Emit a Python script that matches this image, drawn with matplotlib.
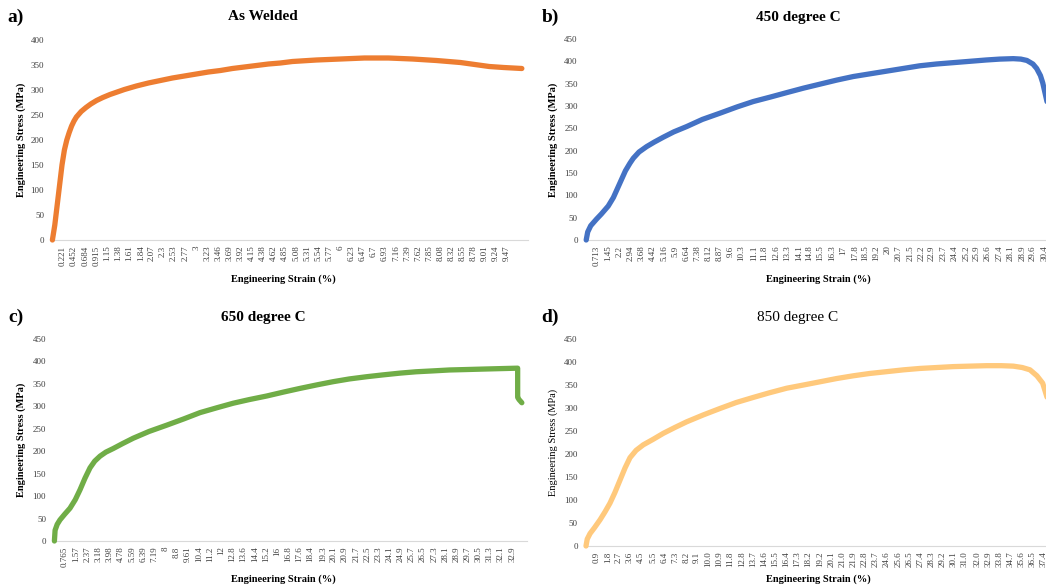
import matplotlib
matplotlib.use("Agg")
import matplotlib.pyplot as plt

plt.rcParams['font.family'] = ['Liberation Serif', 'DejaVu Serif']

# --- data (strain %, stress MPa) ---
aw_strain = [0, 0.05, 0.1, 0.15, 0.2, 0.25, 0.3, 0.35, 0.4, 0.45, 0.5, 0.6, 0.7, 0.8,
             0.92, 1.05, 1.2, 1.35, 1.5, 1.75, 2.0, 2.25, 2.5, 2.75, 3.0, 3.25, 3.5,
             3.75, 4.0, 4.25, 4.5, 4.75, 5.0, 5.5, 6.0, 6.5, 7.0, 7.5, 8.0, 8.5, 8.8,
             9.1, 9.4, 9.78]
aw_stress = [0, 30, 70, 110, 150, 180, 200, 215, 228, 238, 246, 257, 265, 272,
             279, 285, 291, 296, 301, 308, 314, 319, 324, 328, 332, 336, 339,
             343, 346, 349, 352, 354, 357, 360, 362, 364, 364, 362, 359, 355, 351,
             347, 345, 343]

t450_strain = [0, 0.1, 0.3, 0.69, 1.0, 1.46, 1.8, 2.24, 2.6, 2.9, 3.12, 3.5, 4.0, 4.5,
               5.1, 5.8, 6.66, 7.7, 8.87, 10.0, 11.07, 12.2, 13.29, 14.4, 15.5, 16.6,
               17.7, 18.8, 19.9, 21.0, 22.1, 23.2, 24.3, 25.4, 26.5, 27.4, 28.3, 28.8,
               29.2, 29.6, 29.85, 30.1, 30.25, 30.6]
t450_stress = [0, 18, 32, 47, 58, 76, 95, 128, 155, 172, 183, 197, 209, 219,
               230, 242, 254, 270, 284, 298, 310, 320, 330, 340, 349, 358,
               366, 372, 378, 384, 390, 394, 397, 400, 403, 405, 406, 405,
               402, 394, 384, 368, 352, 300]

t650_strain = [0, 0.05, 0.2, 0.4, 0.75, 1.12, 1.5, 1.84, 2.2, 2.56, 2.9, 3.28, 3.7,
               4.23, 4.9, 5.67, 6.8, 8.07, 9.3, 10.47, 11.7, 12.86, 14.0, 15.26, 16.5,
               17.66, 18.9, 20.05, 21.2, 22.45, 23.6, 24.85, 26.0, 27.24, 28.4, 29.64,
               30.8, 32.03, 33.3, 33.3, 33.4, 33.6]
t650_stress = [0, 24, 37, 47, 60, 73, 92, 114, 140, 163, 178, 189, 198,
               206, 217, 229, 244, 258, 272, 286, 297, 307, 315, 323, 332,
               340, 348, 355, 361, 366, 370, 374, 377, 379, 381, 382,
               383, 384, 385, 320, 315, 308]

t850_strain = [0, 0.1, 0.33, 0.7, 1.15, 1.55, 1.96, 2.36, 2.78, 3.2, 3.6, 4.1, 4.69,
               5.5, 6.33, 7.3, 8.24, 9.6, 10.97, 12.3, 13.69, 15.0, 16.42, 17.8, 19.15,
               20.5, 21.87, 23.2, 24.6, 26.0, 27.33, 28.7, 30.06, 31.4, 32.79, 34.0,
               34.97, 35.7, 36.33, 36.9, 37.37, 38.0]
t850_stress = [0, 15, 27, 40, 57, 74, 93, 116, 143, 170, 192, 208, 220,
               232, 245, 258, 270, 285, 299, 312, 323, 333, 343, 350, 357,
               364, 370, 375, 379, 383, 386, 388, 390, 391, 392, 392,
               391, 388, 383, 370, 354, 300]

aw_ticks = ["0.221", "0.452", "0.684", "0.915", "1.15", "1.38", "1.61", "1.84", "2.07",
            "2.3", "2.53", "2.77", "3", "3.23", "3.46", "3.69", "3.92", "4.15", "4.38",
            "4.62", "4.85", "5.08", "5.31", "5.54", "5.77", "6", "6.23", "6.47", "6.7",
            "6.93", "7.16", "7.39", "7.62", "7.85", "8.08", "8.32", "8.55", "8.78",
            "9.01", "9.24", "9.47"]
t450_ticks = ["0.713", "1.45", "2.2", "2.94", "3.68", "4.42", "5.16", "5.9", "6.64",
              "7.38", "8.12", "8.87", "9.6", "10.3", "11.1", "11.8", "12.6", "13.3",
              "14.1", "14.8", "15.5", "16.3", "17", "17.8", "18.5", "19.2", "20", "20.7",
              "21.5", "22.2", "22.9", "23.7", "24.4", "25.2", "25.9", "26.6", "27.4",
              "28.1", "28.9", "29.6", "30.4"]
t650_ticks = ["0.765", "1.57", "2.37", "3.18", "3.98", "4.78", "5.59", "6.39", "7.19",
              "8", "8.8", "9.61", "10.4", "11.2", "12", "12.8", "13.6", "14.4", "15.2",
              "16", "16.8", "17.6", "18.4", "19.3", "20.1", "20.9", "21.7", "22.5",
              "23.3", "24.1", "24.9", "25.7", "26.5", "27.3", "28.1", "28.9", "29.7",
              "30.5", "31.3", "32.1", "32.9"]
t850_ticks = ["0.9", "1.8", "2.7", "3.6", "4.5", "5.5", "6.4", "7.3", "8.2", "9.1",
              "10.0", "10.9", "11.8", "12.8", "13.7", "14.6", "15.5", "16.4", "17.3",
              "18.2", "19.2", "20.1", "21.0", "21.9", "22.8", "23.7", "24.6", "25.6",
              "26.5", "27.4", "28.3", "29.2", "30.1", "31.0", "32.0", "32.9", "33.8",
              "34.7", "35.6", "36.5", "37.4"]

W, H = 1046, 587
fig = plt.figure(figsize=(W / 100, H / 100), dpi=100)


def px_axes(x0, y_zero, y_top, x_end):
    # pixel box -> figure fraction
    return fig.add_axes([x0 / W, 1 - y_zero / H, (x_end - x0) / W, (y_zero - y_top) / H])


panels = [
    # strain, stress, ticks, colour, ymax, box(x0, y0px, ytop px, xend px), xmax
    (aw_strain, aw_stress, aw_ticks, "#ED7D31", 400, (52.4, 240, 40, 527.6), 9.9),
    (t450_strain, t450_stress, t450_ticks, "#4472C4", 450, (586.2, 240, 39, 1048), 30.6),
    (t650_strain, t650_stress, t650_ticks, "#70AD47", 450, (54.4, 541, 339, 527.4), 34.0),
    (t850_strain, t850_stress, t850_ticks, "#FFC97C", 450, (586.0, 546, 339, 1046.7), 37.7),
]

for xs, ys, ticks, col, ymax, box, xmax in panels:
    ax = px_axes(*box)
    ax.plot(xs, ys, color=col, linewidth=3.8, solid_capstyle="round",
            solid_joinstyle="round", clip_on=False)
    ax.set_xlim(0, xmax)
    ax.set_ylim(0, ymax)
    ax.set_yticks(range(0, ymax + 1, 50))
    ax.set_xticks([float(t) for t in ticks])
    ax.set_xticklabels(ticks, rotation=90)
    for s in ["top", "right", "left"]:
        ax.spines[s].set_visible(False)
    ax.spines["bottom"].set_color("#D9D9D9")
    ax.spines["bottom"].set_linewidth(0.8)
    ax.spines["bottom"].set_zorder(0)
    ax.tick_params(axis="x", length=0, pad=4, labelsize=6.5, labelcolor="#404040")
    ax.tick_params(axis="y", length=0, pad=6, labelsize=6.5, labelcolor="#404040")
    ax.patch.set_alpha(0)

# panel letters, titles, axis labels
def ftext(x, y, s, **kw):
    fig.text(x / W, 1 - y / H, s, ha="center", va="center", **kw)

ftext(16, 17, "a)", fontsize=14, fontweight="bold")
ftext(550, 17, "b)", fontsize=14, fontweight="bold")
ftext(16, 317, "c)", fontsize=14, fontweight="bold")
ftext(550, 317, "d)", fontsize=14, fontweight="bold")

ftext(263, 17, "As Welded", fontsize=11, fontweight="bold")
ftext(798, 17, "450 degree C", fontsize=11, fontweight="bold")
ftext(263, 317, "650 degree C", fontsize=11, fontweight="bold")
ftext(798, 317, "850 degree C", fontsize=11)

ftext(21, 140, "Engineering Stress (MPa)", fontsize=7.5, fontweight="bold", rotation=90)
ftext(553, 140, "Engineering Stress (MPa)", fontsize=7.5, fontweight="bold", rotation=90)
ftext(21, 440, "Engineering Stress (MPa)", fontsize=7.5, fontweight="bold", rotation=90)
ftext(553, 442, "Engineering Stress (MPa)", fontsize=7.5, rotation=90)

ftext(283, 279, "Engineering Strain (%)", fontsize=7.5, fontweight="bold")
ftext(818, 279, "Engineering Strain (%)", fontsize=7.5, fontweight="bold")
ftext(283, 579, "Engineering Strain (%)", fontsize=7.5, fontweight="bold")
ftext(818, 579, "Engineering Strain (%)", fontsize=7.5, fontweight="bold")

fig.savefig("out.png", dpi=100)
